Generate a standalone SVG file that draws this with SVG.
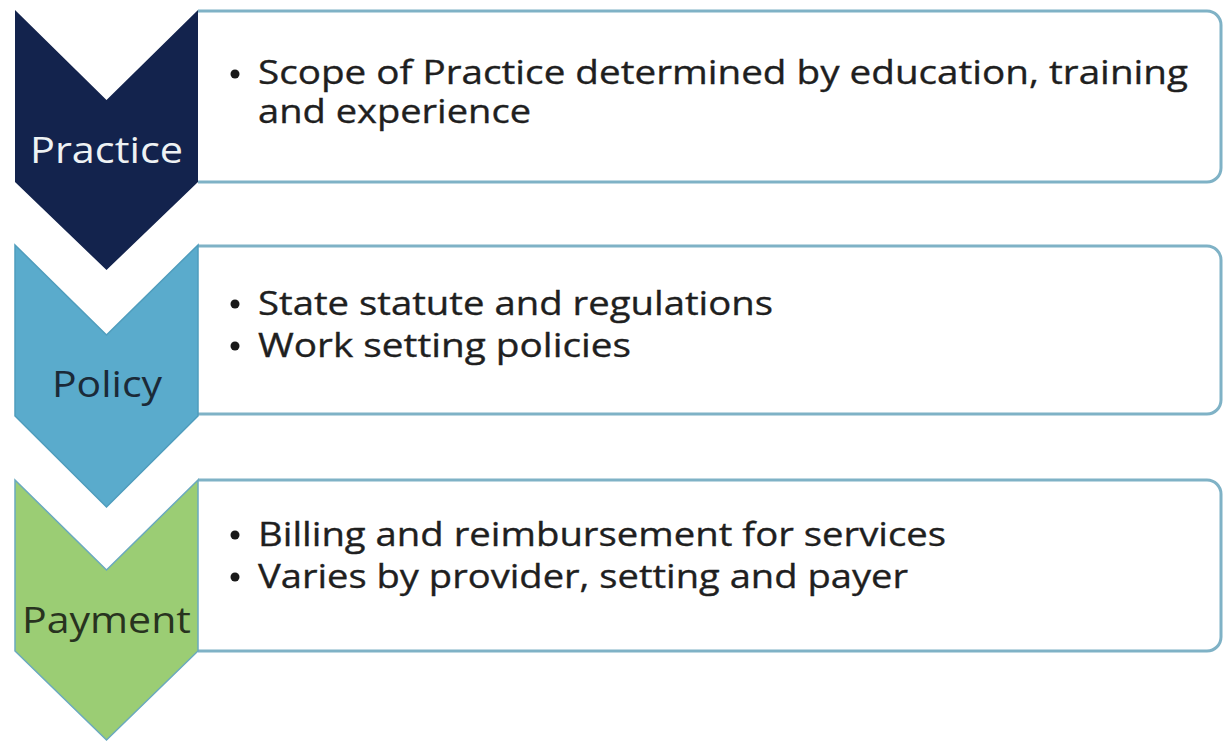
<svg xmlns="http://www.w3.org/2000/svg" width="1223" height="742" viewBox="0 0 1223 742">
  <style>
    .box { fill: #ffffff; stroke: #7fb2c6; stroke-width: 3; }
    .label { font-family: "Open Sans", "Noto Sans", sans-serif; font-size: 36px; text-anchor: middle; }
    .item { font-family: "Open Sans", "Noto Sans", sans-serif; font-size: 32px; fill: #1f1f1f; stroke: #1f1f1f; stroke-width: 0.35; }
    .dot { fill: #1a1a1a; }
  </style>
  <rect width="1223" height="742" fill="#ffffff"/>

  <!-- Practice -->
  <g id="practice">
    <path class="box" d="M198 11 H1207 A14 14 0 0 1 1221 25 V168 A14 14 0 0 1 1207 182 H198"/>
    <path d="M15 10 L106.5 100 L198 10 L198 182 L106.5 270 L15 182 Z" fill="#13234d"/>
    <text class="label" x="106.5" y="163" fill="#eef2f4" textLength="153" lengthAdjust="spacingAndGlyphs">Practice</text>
    <circle class="dot" cx="235" cy="74" r="4.5"/>
    <text class="item" x="258" y="84" textLength="930" lengthAdjust="spacingAndGlyphs">Scope of Practice determined by education, training</text>
    <text class="item" x="258" y="123" textLength="273" lengthAdjust="spacingAndGlyphs">and experience</text>
  </g>

  <!-- Policy -->
  <g id="policy">
    <path class="box" d="M198 246 H1207 A14 14 0 0 1 1221 260 V400 A14 14 0 0 1 1207 414 H198"/>
    <path d="M15 245 L106.5 335 L198 245 L198 416 L106.5 507 L15 416 Z" fill="#5aabcc" stroke="#4f9dbd" stroke-width="1.5"/>
    <text class="label" x="107" y="397" fill="#1b2a38" textLength="110" lengthAdjust="spacingAndGlyphs">Policy</text>
    <circle class="dot" cx="235" cy="304" r="4.5"/>
    <text class="item" x="258" y="315" textLength="515" lengthAdjust="spacingAndGlyphs">State statute and regulations</text>
    <circle class="dot" cx="235" cy="346" r="4.5"/>
    <text class="item" x="258" y="357" textLength="373" lengthAdjust="spacingAndGlyphs">Work setting policies</text>
  </g>

  <!-- Payment -->
  <g id="payment">
    <path class="box" d="M198 480 H1207 A14 14 0 0 1 1221 494 V637 A14 14 0 0 1 1207 651 H198"/>
    <path d="M15 480 L106.5 570 L198 480 L198 651 L106.5 740 L15 651 Z" fill="#9bcd74" stroke="#6aa9bf" stroke-width="1.5"/>
    <text class="label" x="106.5" y="633" fill="#28331f" textLength="169" lengthAdjust="spacingAndGlyphs">Payment</text>
    <circle class="dot" cx="235" cy="535" r="4.5"/>
    <text class="item" x="258" y="546" textLength="688" lengthAdjust="spacingAndGlyphs">Billing and reimbursement for services</text>
    <circle class="dot" cx="235" cy="577" r="4.5"/>
    <text class="item" x="258" y="588" textLength="650" lengthAdjust="spacingAndGlyphs">Varies by provider, setting and payer</text>
  </g>

  <!-- no connectors: the chevrons carry the sequence -->
  <g id="connectors"/>
</svg>
